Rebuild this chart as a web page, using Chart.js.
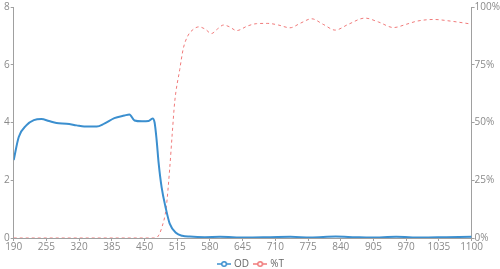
<!DOCTYPE html>
<html>
<head>
<meta charset="utf-8">
<script src="https://cdn.jsdelivr.net/npm/chart.js@4"></script>
<style>
  html, body { margin: 0; padding: 0; background: #fff; }
  #wrap { width: 500px; height: 269px; }
</style>
</head>
<body>
<div id="wrap"><canvas id="chart"></canvas></div>
<script>
// wavelength (nm) and optical density
var odWavelength = [190, 200, 215, 230, 245, 260, 275, 295, 315, 330, 355, 370, 390, 410, 420, 430, 445, 458, 466, 470, 474, 478, 484, 492, 500, 513, 525, 540, 570, 600, 650, 700, 740, 780, 830, 870, 900, 950, 1000, 1050, 1100];
var odValues = [2.7, 3.5, 3.9, 4.08, 4.12, 4.05, 3.98, 3.96, 3.9, 3.86, 3.86, 3.96, 4.15, 4.24, 4.28, 4.07, 4.04, 4.05, 4.14, 4.0, 3.4, 2.6, 1.75, 1.05, 0.5, 0.17, 0.08, 0.05, 0.03, 0.04, 0.02, 0.03, 0.04, 0.02, 0.05, 0.03, 0.02, 0.04, 0.02, 0.03, 0.04];

// wavelength (nm) and transmission %
var tWavelength = [190, 470, 476, 485, 493, 500, 505, 510, 520, 527, 536, 548, 558, 570, 583, 595, 607, 618, 633, 655, 673, 695, 716, 739, 760, 782, 805, 829, 855, 888, 915, 945, 970, 992, 1025, 1058, 1100];
var tValues = [0, 0, 0.5, 5, 13, 30, 45, 59, 73, 82, 87.5, 90.5, 91.4, 90.5, 88.5, 90.5, 92.2, 91.5, 89.8, 91.8, 92.8, 92.9, 92.2, 91, 93, 94.9, 92.5, 90, 92.5, 95.2, 93.5, 91.1, 92.5, 93.9, 94.6, 93.9, 92.6];

var seriesNames = ["OD", "%T"];

function toPoints(xs, ys) {
  var pts = [];
  for (var i = 0; i < xs.length; i++) {
    pts.push({ x: xs[i], y: ys[i] });
  }
  return pts;
}

// little "-o-" legend marker
function legendIcon(color) {
  var c = document.createElement("canvas");
  c.width = 14;
  c.height = 8;
  var ctx = c.getContext("2d");
  ctx.strokeStyle = color;
  ctx.lineWidth = 1.5;
  ctx.beginPath();
  ctx.moveTo(0, 4);
  ctx.lineTo(14, 4);
  ctx.stroke();
  ctx.beginPath();
  ctx.arc(7, 4, 2.3, 0, Math.PI * 2);
  ctx.fillStyle = "#fff";
  ctx.fill();
  ctx.stroke();
  return c;
}

var odColor = "#3b8fcf";
var tColor = "#f07a7a";
var tickColor = "#8a8a8a";
var axisColor = "#a0a0a0";
var tickFont = { size: 10, family: "'Open Sans', sans-serif" };

new Chart(document.getElementById("chart"), {
  type: "line",
  data: {
    datasets: [{
      label: seriesNames[0],
      data: toPoints(odWavelength, odValues),
      borderColor: odColor,
      backgroundColor: "#fff",
      borderWidth: 2,
      pointRadius: 0,
      pointStyle: legendIcon(odColor),
      cubicInterpolationMode: "monotone",
      yAxisID: "y"
    }, {
      label: seriesNames[1],
      data: toPoints(tWavelength, tValues),
      borderColor: tColor,
      backgroundColor: "#fff",
      borderWidth: 1,
      borderDash: [3, 3],
      pointRadius: 0,
      pointStyle: legendIcon(tColor),
      cubicInterpolationMode: "monotone",
      yAxisID: "y1"
    }]
  },
  options: {
    responsive: true,
    maintainAspectRatio: false,
    animation: false,
    layout: { padding: { left: 3, right: 0, top: 0, bottom: 0 } },
    plugins: {
      tooltip: { enabled: false },
      legend: {
        position: "bottom",
        maxHeight: 16,
        labels: {
          usePointStyle: true,
          boxHeight: 8,
          padding: 6,
          color: "#666",
          font: { size: 10, family: "'Open Sans', sans-serif" }
        }
      }
    },
    scales: {
      x: {
        type: "linear",
        min: 190,
        max: 1100,
        border: { color: axisColor },
        grid: { drawOnChartArea: false, tickLength: 3, color: axisColor },
        ticks: {
          stepSize: 65,
          color: tickColor,
          padding: 0,
          maxRotation: 0,
          font: tickFont,
          callback: function (v) { return String(v); }
        }
      },
      y: {
        position: "left",
        min: 0,
        max: 8,
        border: { color: axisColor },
        grid: { drawOnChartArea: false, tickLength: 3, color: axisColor },
        ticks: {
          stepSize: 2,
          color: tickColor,
          padding: 1,
          font: tickFont
        }
      },
      y1: {
        position: "right",
        min: 0,
        max: 100,
        border: { color: axisColor },
        grid: { drawOnChartArea: false, tickLength: 3, color: axisColor },
        ticks: {
          stepSize: 25,
          color: tickColor,
          padding: 0,
          font: tickFont,
          callback: function (v) { return v + "%"; }
        }
      }
    }
  }
});
</script>
</body>
</html>
